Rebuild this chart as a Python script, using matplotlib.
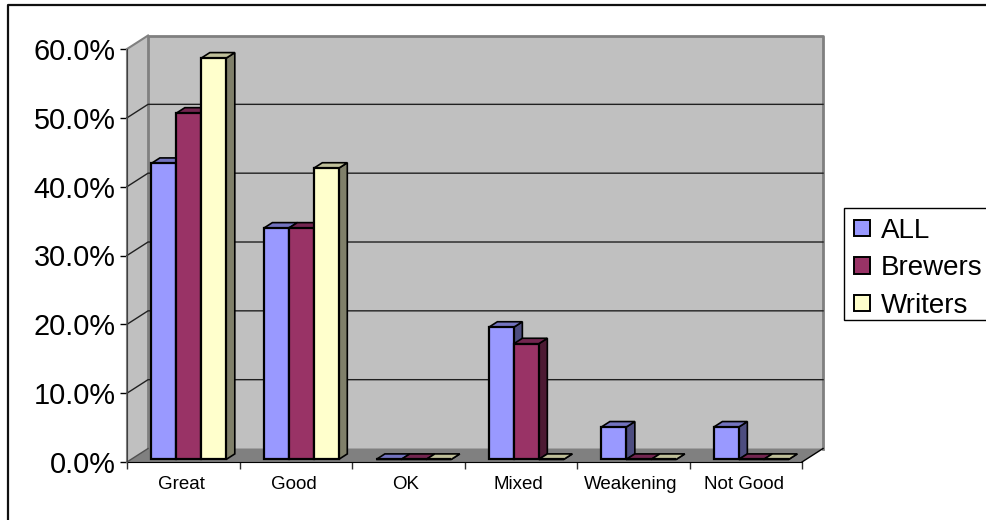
import matplotlib
matplotlib.use("Agg")
import matplotlib.pyplot as plt
from matplotlib.lines import Line2D
from matplotlib.patches import Patch, Rectangle

plt.rcParams["font.family"] = ["Liberation Sans", "DejaVu Sans"]

categories = ["Great", "Good", "OK", "Mixed", "Weakening", "Not Good"]
all_values = [43.0, 33.6, 0.0, 19.2, 4.7, 4.7]
brewers_values = [50.3, 33.6, 0.0, 16.8, 0.0, 0.0]
writers_values = [58.3, 42.3, 0.0, 0.0, 0.0, 0.0]
series_names = ["ALL", "Brewers", "Writers"]
y_ticks = [0, 10, 20, 30, 40, 50, 60]

# face, top and side colours of each series
faces = ["#9999FF", "#993366", "#FFFFCC"]
tops = ["#7373BF", "#732650", "#BFBF99"]
sides = ["#4D4D80", "#4D1A33", "#80806A"]

# how far the 3D back wall sits behind the axis plane, in data units
DEPTH_X = 0.187
DEPTH_Y = 1.96
BAR_FRONT = 0.19
BAR_BACK = 0.6
BAR_WIDTH = 0.222
GROUP_START = 0.18


def proj(x, y, depth):
    return x + depth * DEPTH_X, y + depth * DEPTH_Y


def fill_poly(ax, points, color, edge="none", lw=0.0, zorder=1):
    xs = [p[0] for p in points]
    ys = [p[1] for p in points]
    ax.fill(xs, ys, facecolor=color, edgecolor=edge, linewidth=lw, zorder=zorder,
            clip_on=False, joinstyle="miter")


fig = plt.figure(figsize=(9.86, 5.2), dpi=100)
ax = fig.add_axes([127 / 986, 58 / 520, 675 / 986, 413 / 520])
ax.set_xlim(0, 6)
ax.set_ylim(0, 60)
ax.patch.set_visible(False)

# walls and floor
fill_poly(ax, [proj(0, 0, 1), proj(6, 0, 1), proj(6, 60, 1), proj(0, 60, 1)], "#C0C0C0")
fill_poly(ax, [proj(0, 0, 0), proj(0, 0, 1), proj(0, 60, 1), proj(0, 60, 0)], "#C0C0C0")
fill_poly(ax, [proj(0, 0, 0), proj(6, 0, 0), proj(6, 0, 1), proj(0, 0, 1)], "#808080")

# wall edges
gray = dict(color="#808080", lw=2.0, clip_on=False, zorder=2)
ax.plot(*zip(proj(0, 0, 1), proj(0, 60, 1), proj(6, 60, 1), proj(6, 0, 1)), **gray)
ax.plot(*zip(proj(0, 0, 0), proj(0, 60, 0)), color="#808080", lw=1.5, clip_on=False, zorder=2)
ax.plot(*zip(proj(0, 60, 0), proj(0, 60, 1)), color="#808080", lw=1.5, clip_on=False, zorder=2)
ax.plot(*zip(proj(6, 0, 0), proj(6, 0, 1)), color="black", lw=1.0, clip_on=False, zorder=2)

# gridlines run along the side wall and then the back wall
for tick in y_ticks[1:-1]:
    ax.plot(*zip(proj(0, tick, 0), proj(0, tick, 1), proj(6, tick, 1)),
            color="#202020", lw=1.0, clip_on=False, zorder=3)
ax.plot(*zip(proj(0, 0, 0), proj(0, 0, 1)), color="#505050", lw=1.0, clip_on=False, zorder=3)

# bars
all_series = [all_values, brewers_values, writers_values]
for s, values in enumerate(all_series):
    positions = [i + GROUP_START + s * BAR_WIDTH for i in range(len(categories))]
    z = 4 + s
    for x0, v in zip(positions, values):
        x1 = x0 + BAR_WIDTH
        fill_poly(ax, [proj(x1, 0, BAR_FRONT), proj(x1, 0, BAR_BACK),
                       proj(x1, v, BAR_BACK), proj(x1, v, BAR_FRONT)],
                  sides[s], "black", 1.2, z)
        fill_poly(ax, [proj(x0, v, BAR_FRONT), proj(x1, v, BAR_FRONT),
                       proj(x1, v, BAR_BACK), proj(x0, v, BAR_BACK)],
                  tops[s], "black", 1.2, z)
    front_x = [proj(x, 0, BAR_FRONT)[0] for x in positions]
    ax.bar(front_x, values, BAR_WIDTH, bottom=BAR_FRONT * DEPTH_Y, align="edge",
           color=faces[s], edgecolor="black", linewidth=1.6, zorder=z + 0.5, clip_on=False)

# axes
for name in ["top", "right"]:
    ax.spines[name].set_visible(False)
ax.spines["left"].set_color("#404040")
ax.spines["bottom"].set_color("black")
ax.spines["left"].set_zorder(3)
ax.set_yticks(y_ticks)
ax.set_yticklabels([f"{t:.1f}%" for t in y_ticks], fontsize=20.8)
ax.tick_params(axis="y", length=5, width=1.0, pad=3.2, colors="black")
ax.set_xticks(range(len(categories) + 1))
ax.set_xticklabels([])
ax.set_xticks([i + 0.48 for i in range(len(categories))], minor=True)
ax.set_xticklabels(categories, minor=True, fontsize=13.5)
ax.tick_params(axis="x", which="major", length=5, width=1.0, color="#303030")
ax.tick_params(axis="x", which="minor", length=0, pad=10)

# outer chart border, right and bottom sides fall outside the picture
fig.add_artist(Line2D([8 / 986, 8 / 986, 1.0], [0.0, 1 - 5 / 520, 1 - 5 / 520],
                      color="#101010", lw=1.6))

# legend box also runs off the right edge, so its frame is drawn separately
fig.add_artist(Rectangle((844 / 986, 1 - 320 / 520), 160 / 986, 112 / 520,
                         transform=fig.transFigure, facecolor="white",
                         edgecolor="black", linewidth=1.0))
handles = [Patch(facecolor=c, edgecolor="black", linewidth=1.4) for c in faces]
legend = fig.legend(handles, series_names, loc="upper left",
                    bbox_to_anchor=(844 / 986, 1 - 208 / 520), borderaxespad=0,
                    fontsize=20, frameon=False, handlelength=0.58, handleheight=0.54,
                    handletextpad=0.4, borderpad=0.36, labelspacing=0.41)
legend.set_zorder(5)

fig.savefig("out.png", dpi=100)
